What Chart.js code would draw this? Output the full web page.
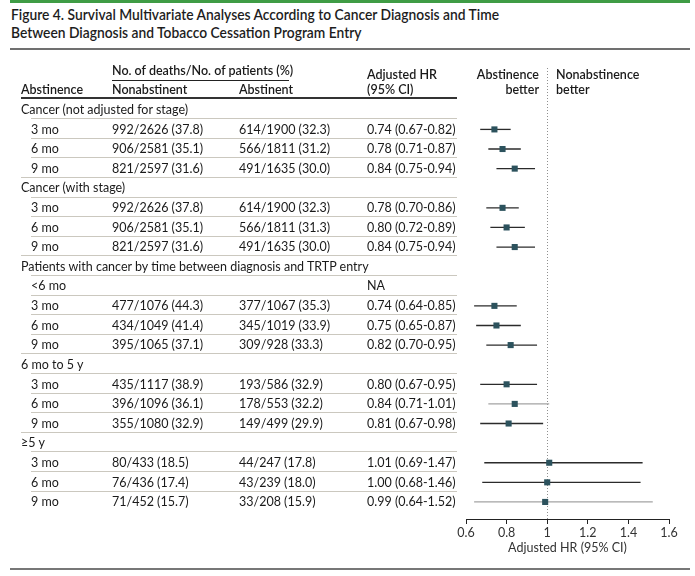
<!DOCTYPE html>
<html>
<head>
<meta charset="utf-8">
<script src="https://cdn.jsdelivr.net/npm/chart.js@4"></script>
<style>
  html, body { margin: 0; padding: 0; background: #fff; }
  #page { position: relative; width: 695px; height: 576px; overflow: hidden;
          font-family: Lato, "Open Sans", sans-serif; color: #1a1a1a; }
  #chart { position: absolute; left: 0; top: 0; }
  .t { position: absolute; white-space: nowrap; font-size: 12.5px; line-height: 15px; }
  .b { font-weight: 600; }
  .title { position: absolute; left: 11px; white-space: nowrap; font-size: 14.5px; line-height: 17px;
           font-weight: 600; transform-origin: 0 0; color: #1d1d1d; }
  .rule { position: absolute; }
</style>
</head>
<body>
<div id="page">
  <div class="rule" style="left:10px;top:0;width:680px;height:3px;background:#3f9c45"></div>
  <div class="title" id="t1" style="top:6px">Figure 4. Survival Multivariate Analyses According to Cancer Diagnosis and Time</div>
  <div class="title" id="t2" style="top:23.5px">Between Diagnosis and Tobacco Cessation Program Entry</div>
  <div class="rule" style="left:10px;top:48px;width:680px;height:2px;background:#707070"></div>
  <div class="rule" style="left:112px;top:80px;width:177px;height:1px;background:#222"></div>
  <div class="rule" style="left:21px;top:97px;width:436px;height:2px;background:#333"></div>
  <div class="rule" style="left:10px;top:568px;width:680px;height:2px;background:#777"></div>
  <canvas id="chart" width="695" height="576"></canvas>
</div>
<script>
// rows of the table, top to bottom
const rowLabels = [
  'Cancer (not adjusted for stage)', '3 mo', '6 mo', '9 mo',
  'Cancer (with stage)', '3 mo', '6 mo', '9 mo',
  'Patients with cancer by time between diagnosis and TRTP entry',
  '<6 mo', '3 mo', '6 mo', '9 mo',
  '6 mo to 5 y', '3 mo', '6 mo', '9 mo',
  '≥5 y', '3 mo', '6 mo', '9 mo'
];
const nonabstinent = [
  '', '992/2626 (37.8)', '906/2581 (35.1)', '821/2597 (31.6)',
  '', '992/2626 (37.8)', '906/2581 (35.1)', '821/2597 (31.6)',
  '', '', '477/1076 (44.3)', '434/1049 (41.4)', '395/1065 (37.1)',
  '', '435/1117 (38.9)', '396/1096 (36.1)', '355/1080 (32.9)',
  '', '80/433 (18.5)', '76/436 (17.4)', '71/452 (15.7)'
];
const abstinent = [
  '', '614/1900 (32.3)', '566/1811 (31.2)', '491/1635 (30.0)',
  '', '614/1900 (32.3)', '566/1811 (31.3)', '491/1635 (30.0)',
  '', '', '377/1067 (35.3)', '345/1019 (33.9)', '309/928 (33.3)',
  '', '193/586 (32.9)', '178/553 (32.2)', '149/499 (29.9)',
  '', '44/247 (17.8)', '43/239 (18.0)', '33/208 (15.9)'
];
const hrLabels = [
  '', '0.74 (0.67-0.82)', '0.78 (0.71-0.87)', '0.84 (0.75-0.94)',
  '', '0.78 (0.70-0.86)', '0.80 (0.72-0.89)', '0.84 (0.75-0.94)',
  '', 'NA', '0.74 (0.64-0.85)', '0.75 (0.65-0.87)', '0.82 (0.70-0.95)',
  '', '0.80 (0.67-0.95)', '0.84 (0.71-1.01)', '0.81 (0.67-0.98)',
  '', '1.01 (0.69-1.47)', '1.00 (0.68-1.46)', '0.99 (0.64-1.52)'
];
const hr     = [null, 0.74, 0.78, 0.84, null, 0.78, 0.80, 0.84, null, null, 0.74, 0.75, 0.82, null, 0.80, 0.84, 0.81, null, 1.01, 1.00, 0.99];
const hrLow  = [null, 0.67, 0.71, 0.75, null, 0.70, 0.72, 0.75, null, null, 0.64, 0.65, 0.70, null, 0.67, 0.71, 0.67, null, 0.69, 0.68, 0.64];
const hrHigh = [null, 0.82, 0.87, 0.94, null, 0.86, 0.89, 0.94, null, null, 0.85, 0.87, 0.95, null, 0.95, 1.01, 0.98, null, 1.47, 1.46, 1.52];
const xTicks = [0.6, 0.8, 1, 1.2, 1.4, 1.6];
const xTickLabels = ['0.6', '0.8', '1', '1.2', '1.4', '1.6'];

const groupRows = [0, 4, 8, 13, 17];   // headings, not indented
const grayRows = [15, 20];             // CI drawn in light gray

const ciSets = [];
hr.forEach((v, i) => {
  if (v === null) return;
  ciSets.push({
    data: [{x: hrLow[i], y: i}, {x: hrHigh[i], y: i}],
    showLine: true,
    pointRadius: 0,
    borderWidth: 1.3,
    borderColor: grayRows.includes(i) ? '#a3a3a3' : '#2b2b2b',
    order: 1
  });
});
const squares = {
  data: hr.map((v, i) => v === null ? null : {x: v, y: i}).filter(Boolean),
  pointStyle: 'rect',
  pointRadius: 4.3,
  backgroundColor: '#2c525d',
  borderWidth: 0,
  order: 0
};

const rowLines = {
  id: 'rowLines',
  beforeDatasetsDraw(chart) {
    const ctx = chart.ctx, ys = chart.scales.y, xs = chart.scales.x;
    ctx.save();
    ctx.strokeStyle = '#cbc8bf';
    ctx.lineWidth = 1;
    for (let i = 0; i < rowLabels.length - 1; i++) {
      const yy = Math.floor((ys.getPixelForValue(i) + ys.getPixelForValue(i + 1)) / 2) - 1 + 0.5;
      const x0 = groupRows.includes(i + 1) ? 21 : 31;
      ctx.beginPath(); ctx.moveTo(x0, yy); ctx.lineTo(457, yy); ctx.stroke();
    }
    const xr = Math.round(xs.getPixelForValue(1)) + 0.5;
    ctx.strokeStyle = '#8f8f8f';
    ctx.setLineDash([1, 2]);
    ctx.beginPath(); ctx.moveTo(xr, 68); ctx.lineTo(xr, chart.chartArea.bottom); ctx.stroke();
    ctx.restore();
  }
};

const chart = new Chart(document.getElementById('chart'), {
  type: 'scatter',
  data: { datasets: ciSets.concat([squares]) },
  options: {
    responsive: false,
    animation: false,
    devicePixelRatio: 1,
    layout: { padding: { left: 466, right: 26, top: 100, bottom: 0 } },
    plugins: { legend: { display: false }, tooltip: { enabled: false } },
    scales: {
      x: {
        type: 'linear', min: 0.6, max: 1.6,
        afterBuildTicks: s => { s.ticks = xTicks.map(v => ({value: v})); },
        afterFit: s => { s.height = 57; },
        ticks: {
          callback: (v, i) => xTickLabels[i],
          color: '#333', padding: 1, maxRotation: 0,
          font: { family: 'Lato', size: 12.5 }
        },
        grid: { drawOnChartArea: false, drawTicks: true, tickLength: 5, color: '#222' },
        border: { display: true, color: '#222', width: 1 },
        title: {
          display: true, text: 'Adjusted HR (95% CI)', color: '#333',
          font: { family: 'Lato', size: 12.5 }, padding: { top: 0, bottom: 21 }
        }
      },
      y: { type: 'linear', min: -0.5, max: 20.87, reverse: true, display: false }
    }
  },
  plugins: [rowLines]
});

// table text, placed on the chart's row positions
const page = document.getElementById('page');
function addText(str, left, cy, cls, right) {
  const d = document.createElement('div');
  d.className = 't' + (cls ? ' ' + cls : '');
  d.textContent = str;
  if (right !== undefined) d.style.right = (695 - right) + 'px';
  else d.style.left = left + 'px';
  d.style.top = (cy - 7.8) + 'px';
  page.appendChild(d);
  return d;
}
addText('No. of deaths/No. of patients (%)', 112, 71, 'b');
addText('Abstinence', 21, 90, 'b');
addText('Nonabstinent', 112, 90, 'b');
addText('Abstinent', 239, 90, 'b');
addText('Adjusted HR', 367, 75, 'b');
addText('(95% CI)', 367, 90, 'b');
addText('Abstinence', 0, 75, 'b', 539);
addText('better', 0, 90, 'b', 539);
addText('Nonabstinence', 556, 75, 'b');
addText('better', 556, 90, 'b');

const ys = chart.scales.y;
rowLabels.forEach((lab, i) => {
  const cy = ys.getPixelForValue(i);
  addText(lab, groupRows.includes(i) ? 21 : 31, cy);
  if (nonabstinent[i]) addText(nonabstinent[i], 112, cy);
  if (abstinent[i]) addText(abstinent[i], 239, cy);
  if (hrLabels[i]) addText(hrLabels[i], 367, cy);
});

// squeeze the title to the reference's condensed width
const t1 = document.getElementById('t1'), t2 = document.getElementById('t2');
const k = 488 / t1.getBoundingClientRect().width;
t1.style.transform = t2.style.transform = 'scaleX(' + k + ')';
</script>
</body>
</html>
